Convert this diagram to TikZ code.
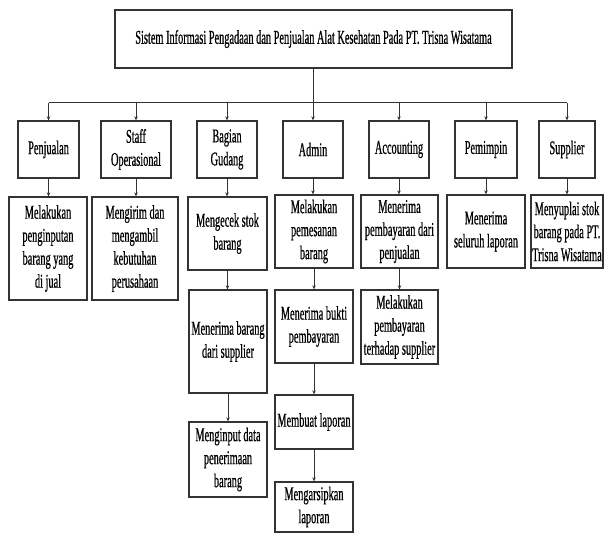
\documentclass[tikz,border=0pt]{standalone}
\usepackage{fontspec}
\usetikzlibrary{arrows.meta}
\newfontfamily\condfont[FakeStretch=0.53,FakeBold=0.6]{Liberation Serif}
\tikzset{
  box/.style={draw=black!80, line width=1.3pt, fill=white, rectangle, align=center,
    inner sep=1pt, font=\condfont\fontsize{19.5}{23}\selectfont},
  conn/.style={draw=black!80, line width=1pt},
  arr/.style={conn, -{Stealth[length=4pt,width=3.5pt]}}
}
\begin{document}
\begin{tikzpicture}[x=1pt,y=-1pt]
\useasboundingbox (0,0) rectangle (605,534);
% title
\node[box, minimum width=397, minimum height=58] (title) at (313.5,39)
  {Sistem Informasi Pengadaan dan Penjualan Alat Kesehatan Pada PT. Trisna Wisatama};
% level 1
\node[box, minimum width=61, minimum height=57] (pj) at (48.5,149.5) {Penjualan};
\node[box, minimum width=70, minimum height=57] (so) at (136,149.5) {Staff\\Operasional};
\node[box, minimum width=60, minimum height=57] (bg) at (227,149.5) {Bagian\\Gudang};
\node[box, minimum width=60, minimum height=57] (ad) at (313,149.5) {Admin};
\node[box, minimum width=60, minimum height=57] (ac) at (399,149.5) {Accounting};
\node[box, minimum width=62, minimum height=57] (pm) at (486,149.5) {Pemimpin};
\node[box, minimum width=56, minimum height=57] (su) at (567,149.5) {Supplier};
% level 2
\node[box, minimum width=78, minimum height=103] (pj2) at (48,248.5)
  {Melakukan\\penginputan\\barang yang\\di jual};
\node[box, minimum width=86, minimum height=103] (so2) at (135,248.5)
  {Mengirim dan\\mengambil\\kebutuhan\\perusahaan};
\node[box, minimum width=79, minimum height=73] (bg2) at (227.5,233.5)
  {Mengecek stok\\barang};
\node[box, minimum width=78, minimum height=73] (ad2) at (314,231.5)
  {Melakukan\\pemesanan\\barang};
\node[box, minimum width=77, minimum height=73] (ac2) at (399.5,231.5)
  {Menerima\\pembayaran dari\\penjualan};
\node[box, minimum width=78, minimum height=73] (pm2) at (486,231.5)
  {Menerima\\seluruh laporan};
\node[box, minimum width=72, minimum height=73] (su2) at (567,231.5)
  {Menyuplai stok\\barang pada PT.\\Trisna Wisatama};
% level 3
\node[box, minimum width=78, minimum height=103] (bg3) at (228,341.5)
  {Menerima barang\\dari supplier};
\node[box, minimum width=78, minimum height=73] (ad3) at (314,326.5)
  {Menerima bukti\\pembayaran};
\node[box, minimum width=77, minimum height=74] (ac3) at (399.5,327)
  {Melakukan\\pembayaran\\terhadap supplier};
% level 4
\node[box, minimum width=78, minimum height=75] (bg4) at (228,459.5)
  {Menginput data\\penerimaan\\barang};
\node[box, minimum width=78, minimum height=54] (ad4) at (314,422)
  {Membuat laporan};
% level 5
\node[box, minimum width=78, minimum height=50] (ad5) at (314,507)
  {Mengarsipkan\\laporan};
% bus
\coordinate (bus) at (313,103);
\draw[conn] (title.south) -- (title.south |- bus);
\draw[conn] (pj.north |- bus) -- (su.north |- bus);
\foreach \n in {pj,so,bg,ad,ac,pm,su} {
  \draw[arr] (\n.north |- bus) -- (\n.north);
}
% level 1 -> 2
\foreach \a/\b in {pj/pj2,so/so2,bg/bg2,ad/ad2,ac/ac2,pm/pm2,su/su2} {
  \draw[arr] (\a.south) -- (\a.south |- \b.north);
}
% lower chains
\draw[arr] (bg2.south) -- (bg2.south |- bg3.north);
\draw[arr] (bg3.south) -- (bg3.south |- bg4.north);
\draw[arr] (ad2.south) -- (ad2.south |- ad3.north);
\draw[arr] (ad3.south) -- (ad3.south |- ad4.north);
\draw[arr] (ad4.south) -- (ad4.south |- ad5.north);
\draw[arr] (ac2.south) -- (ac2.south |- ac3.north);
\end{tikzpicture}
\end{document}
